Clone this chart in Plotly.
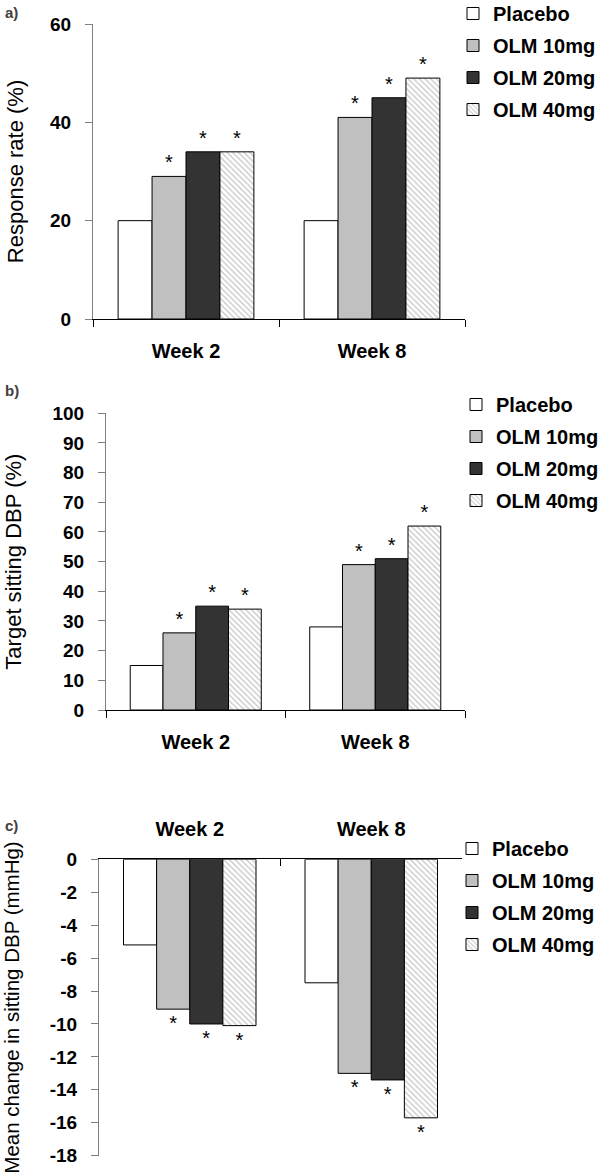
import plotly.graph_objects as go

weeks = ["Week 2", "Week 8"]
groups = ["Placebo", "OLM 10mg", "OLM 20mg", "OLM 40mg"]

# Panel a: Response rate (%)
resp_rate = {
    "Placebo": [20, 20],
    "OLM 10mg": [29, 41],
    "OLM 20mg": [34, 45],
    "OLM 40mg": [34, 49],
}
# Panel b: Target sitting DBP (%)
target_dbp = {
    "Placebo": [15, 28],
    "OLM 10mg": [26, 49],
    "OLM 20mg": [35, 51],
    "OLM 40mg": [34, 62],
}
# Panel c: Mean change in sitting DBP (mmHg)
mean_change = {
    "Placebo": [-5.2, -7.5],
    "OLM 10mg": [-9.1, -13.0],
    "OLM 20mg": [-10.0, -13.4],
    "OLM 40mg": [-10.1, -15.7],
}
# significance markers
signif = {
    "Placebo": ["", ""],
    "OLM 10mg": ["*", "*"],
    "OLM 20mg": ["*", "*"],
    "OLM 40mg": ["*", "*"],
}

a_ticks = [0, 20, 40, 60]
b_ticks = [0, 10, 20, 30, 40, 50, 60, 70, 80, 90, 100]
c_ticks = [0, -2, -4, -6, -8, -10, -12, -14, -16, -18]
c_ticktext = ["0", "-2", "-4", "-6", "-8", "-10", "-12", "-14", "-16", "-18"]

FONT = "Liberation Sans, Arial, sans-serif"
W, H = 605, 1176

styles = {
    "Placebo": dict(color="white"),
    "OLM 10mg": dict(color="#c0c0c0"),
    "OLM 20mg": dict(color="#333333"),
    "OLM 40mg": dict(color="white",
                     pattern=dict(shape="\\", fgcolor="#8a8a8a", bgcolor="white",
                                  size=4, solidity=0.3)),
}

fig = go.Figure()
panels = [
    (resp_rate, "x", "y", "legend"),
    (target_dbp, "x2", "y2", "legend2"),
    (mean_change, "x3", "y3", "legend3"),
]
for data, xa, ya, lg in panels:
    for g in groups:
        fig.add_trace(go.Bar(
            x=weeks, y=data[g], name=g, xaxis=xa, yaxis=ya, legend=lg,
            legendgroup=lg + g,
            marker=dict(line=dict(color="black", width=1), **styles[g]),
            text=signif[g], textposition="outside", cliponaxis=False,
            textfont=dict(family=FONT, size=20, color="black"),
            hoverinfo="x+y+name",
        ))

def xd(a, b):
    return [a / W, b / W]

def yd(top, bottom):
    return [1 - bottom / H, 1 - top / H]

tickfont = dict(family=FONT, size=19, color="black", weight="bold")
xaxis_common = dict(
    type="category", tickson="boundaries", ticks="outside", ticklen=7,
    tickcolor="black", showline=True, linecolor="black", linewidth=1,
    showgrid=False, zeroline=False, tickfont=dict(family=FONT, size=20, color="black", weight="bold"),
    ticklabelstandoff=14, fixedrange=True, automargin=False,
)
yaxis_common = dict(
    showline=True, linecolor="#808080", linewidth=1, ticks="outside",
    ticklen=7, tickcolor="#808080", showgrid=False, zeroline=False,
    tickfont=tickfont, ticklabelstandoff=10, fixedrange=True, automargin=False,
)

legend_common = dict(
    font=dict(family=FONT, size=20, color="black", weight="bold"),
    bgcolor="rgba(0,0,0,0)", borderwidth=0, xanchor="left", yanchor="top",
    itemclick=False, itemdoubleclick=False, tracegroupgap=3,
)

fig.update_layout(
    width=W, height=H, margin=dict(l=0, r=0, t=0, b=0, autoexpand=False),
    paper_bgcolor="white", plot_bgcolor="white",
    barmode="group", bargap=0.27, bargroupgap=0,
    font=dict(family=FONT, color="black"),
    showlegend=True,
    xaxis=dict(domain=xd(93, 465), anchor="y", **xaxis_common),
    yaxis=dict(domain=yd(24, 319), anchor="x", range=[0, 60], tickvals=a_ticks,
               title=dict(text="Response rate (%)", font=dict(family=FONT, size=22, color="black"), standoff=20),
               **yaxis_common),
    xaxis2=dict(domain=xd(106, 465), anchor="y2", **xaxis_common),
    yaxis2=dict(domain=yd(413.3, 710), anchor="x2", range=[0, 100], tickvals=b_ticks,
                title=dict(text="Target sitting DBP (%)", font=dict(family=FONT, size=22, color="black"), standoff=24),
                **yaxis_common),
    xaxis3=dict(domain=xd(99, 462), anchor="y3", side="top", **{**xaxis_common, "ticks": "inside"}),
    yaxis3=dict(domain=yd(859.3, 1155.7), anchor="x3", range=[-18, 0], tickvals=c_ticks,
                ticktext=c_ticktext,
                title=dict(text="Mean change in sitting DBP (mmHg)", font=dict(family=FONT, size=20.5, color="black"), standoff=26),
                **yaxis_common),
    legend=dict(x=453 / W, y=1 + 6 / H, **legend_common),
    legend2=dict(x=456 / W, y=1 - 385 / H, **legend_common),
    legend3=dict(x=452 / W, y=1 - 829 / H, **legend_common),
    annotations=[
        dict(text="<b>a)</b>", x=3 / W, y=1 - 12 / H, xref="paper", yref="paper",
             xanchor="left", yanchor="middle", showarrow=False,
             font=dict(family=FONT, size=15, color="#404040")),
        dict(text="<b>b)</b>", x=3 / W, y=1 - 390 / H, xref="paper", yref="paper",
             xanchor="left", yanchor="middle", showarrow=False,
             font=dict(family=FONT, size=15, color="#404040")),
        dict(text="<b>c)</b>", x=3 / W, y=1 - 826 / H, xref="paper", yref="paper",
             xanchor="left", yanchor="middle", showarrow=False,
             font=dict(family=FONT, size=15, color="#404040")),
    ],
)

fig.write_html("out.html", config={"displayModeBar": False},
               post_script="document.body.style.margin='0';")
